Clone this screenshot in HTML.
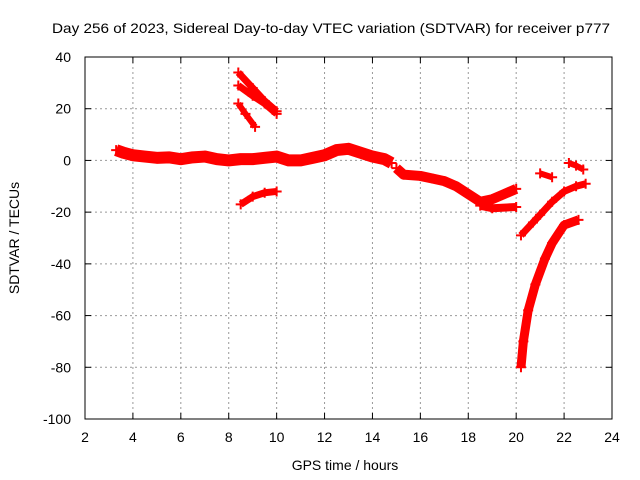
<!DOCTYPE html>
<html><head><meta charset="utf-8"><style>
body{margin:0;background:#fff}
svg{display:block;font-family:"Liberation Sans",sans-serif}
</style></head><body>
<svg id="c" width="640" height="480">
<rect width="640" height="480" fill="#fff"/>
<text x="331" y="33" font-size="14" text-anchor="middle" textLength="558" lengthAdjust="spacingAndGlyphs">Day 256 of 2023, Sidereal Day-to-day VTEC variation (SDTVAR) for receiver p777</text>
<text x="345" y="470" font-size="14" text-anchor="middle">GPS time / hours</text>
<text transform="translate(19,238) rotate(-90)" font-size="14" text-anchor="middle">SDTVAR / TECUs</text>
<g id="grid"></g><g id="marks"></g>
<rect x="85" y="57" width="527" height="362" fill="none" stroke="#000" stroke-width="1"/>
</svg>
<script>
const xTicks=[2,4,6,8,10,12,14,16,18,20,22,24];
const yTicks=[40,20,0,-20,-40,-60,-80,-100];
const mainT=[3.3,3.6,4,4.5,5,5.5,6,6.5,7,7.5,8,8.5,9,9.5,10,10.5,11,11.5,12,12.5,13,13.5,14,14.5,14.8];
const mainV=[4,3,2,1.5,1,1.2,0.5,1.2,1.5,0.5,0,0.5,0.5,1,1.5,0,0,1,2,4,4.5,3,1.5,0.5,-1];
const eveT=[15,15.3,16,16.5,17,17.5,18,18.5,19,19.5,20];
const eveV=[-3,-5.5,-6,-7,-8,-10,-13,-16,-15,-13,-11];
const lowT=[18.5,19,20];
const lowV=[-17.5,-18.5,-18];
const diagAT=[8.4,9,9.5,10];
const diagAV=[34,28,23,19];
const diagBT=[8.4,9,9.5,10];
const diagBV=[29,25,22,18];
const diagCT=[8.4,8.7,9.1];
const diagCV=[22,18,13];
const arcT=[8.5,9,9.5,10];
const arcV=[-17,-14,-12.5,-12];
const smallAT=[21,21.5];
const smallAV=[-5,-6.5];
const smallBT=[22.2,22.5,22.8];
const smallBV=[-1,-2,-3.5];
const riseT=[20.2,20.7,21,21.5,22,22.5,22.9];
const riseV=[-29,-24,-21,-16,-12,-10,-9];
const dropT=[20.2,20.3,20.5,20.8,21.2,21.5,22,22.6];
const dropV=[-80,-70,-58,-48,-38,-32,-25,-23];
const X=t=>85+(t-2)*527/22;
const Y=v=>57+(40-v)*362/140;
const NS="http://www.w3.org/2000/svg";
const grid=document.getElementById('grid'),marks=document.getElementById('marks'),svg=document.getElementById('c');
function mk(tag,attrs,parent){const e=document.createElementNS(NS,tag);for(const k in attrs)e.setAttribute(k,attrs[k]);parent.appendChild(e);return e;}
xTicks.forEach(t=>{
 const g=mk('line',{x1:X(t),x2:X(t),y1:57,y2:419,stroke:'#999','stroke-dasharray':'2,3'},grid);
 
 
 mk('line',{x1:X(t),x2:X(t),y1:419,y2:413,stroke:'#000'},grid);
 mk('line',{x1:X(t),x2:X(t),y1:57,y2:63,stroke:'#000'},grid);
 const l=mk('text',{x:X(t),y:442,'font-size':14,'text-anchor':'middle'},svg);
 l.textContent=t;
 
 
});
yTicks.forEach(v=>{
 const g=mk('line',{x1:85,x2:612,y1:Y(v),y2:Y(v),stroke:'#999','stroke-dasharray':'2,3'},grid);
 
 
 mk('line',{x1:85,x2:91,y1:Y(v),y2:Y(v),stroke:'#000'},grid);
 mk('line',{x1:612,x2:606,y1:Y(v),y2:Y(v),stroke:'#000'},grid);
 const l=mk('text',{x:71,y:Y(v)+5,'font-size':14,'text-anchor':'end'},svg);
 l.textContent=v;
 
 
});
function track(T,V,w,name){
 const p=mk('polyline',{points:T.map((t,i)=>X(t)+','+Y(V[i])).join(' '),fill:'none',stroke:'#f00','stroke-width':w,'stroke-linejoin':'round','stroke-linecap':'butt'},marks);
 
 
 T.forEach((t,i)=>{
  const c=mk('path',{d:`M${X(t)-5},${Y(V[i])}h10M${X(t)},${Y(V[i])-5}v10`,stroke:'#f00','stroke-width':2},marks);
  
  
 });
}
track(mainT,mainV,12,'main-band');
track(eveT,eveV,10,'evening-band');
track(lowT,lowV,8,'low-branch');
track(diagAT,diagAV,7,'diag-track-a');
track(diagBT,diagBV,7,'diag-track-b');
track(diagCT,diagCV,6,'diag-track-c');
track(arcT,arcV,7,'arc-track');
track(smallAT,smallAV,6,'small-track-a');
track(smallBT,smallBV,6,'small-track-b');
track(riseT,riseV,7,'rise-track');
track(dropT,dropV,9,'drop-track');
</script>
</body></html>
